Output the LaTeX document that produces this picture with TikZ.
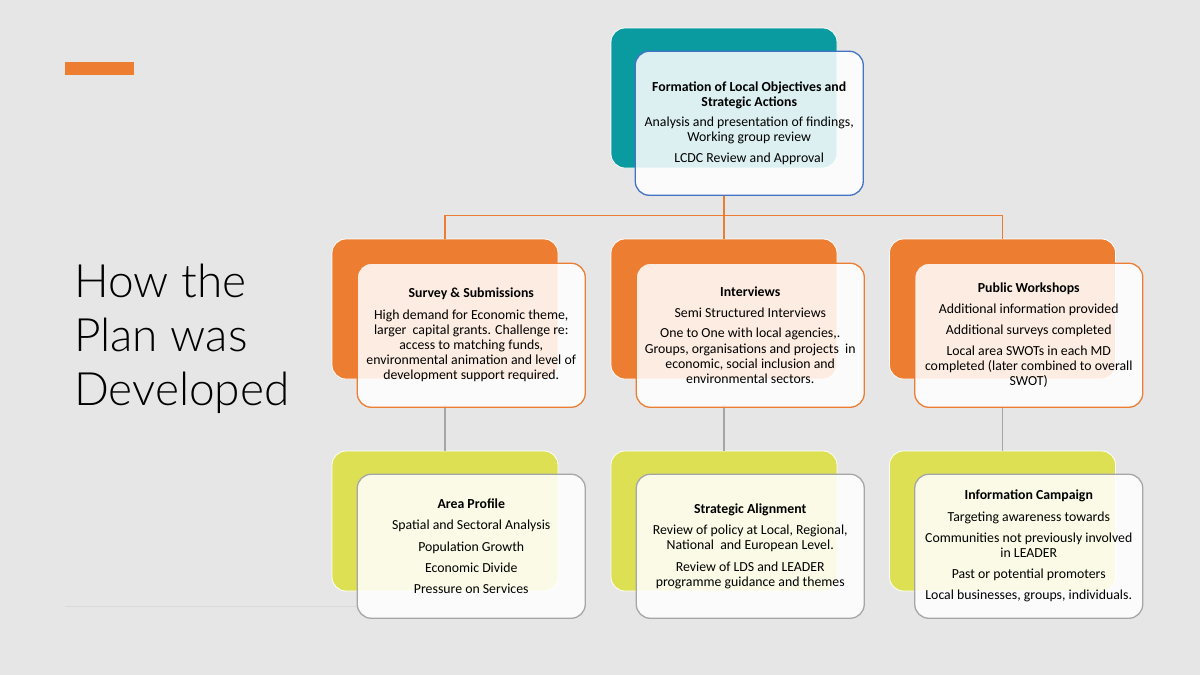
\documentclass[tikz,border=0pt]{standalone}
\usepackage{fontspec}
\setmainfont{Carlito}
\IfFontExistsTF{Lato Light}{\newfontfamily\titlefont{Lato Light}}{\newfontfamily\titlefont{Lato}}
\usepackage{tikz}
\usetikzlibrary{positioning}

\definecolor{slidebg}{RGB}{231,230,230}
\definecolor{orangeA}{RGB}{237,125,49}
\definecolor{tealA}{RGB}{10,155,160}
\definecolor{limeA}{RGB}{220,224,82}
\definecolor{blueA}{RGB}{68,114,196}
\definecolor{grayA}{RGB}{166,166,166}

\tikzset{
  backbox/.style={rounded corners=14pt, minimum width=226pt, minimum height=140pt,
    draw=white, line width=0.8pt, inner sep=0pt},
  frontbox/.style={rounded corners=14pt, minimum width=228pt, minimum height=144pt,
    fill=white, fill opacity=0.86, text opacity=1, line width=1.3pt, align=center,
    inner sep=0pt, font=\fontsize{13.8}{15.2}\selectfont, anchor=north west},
}

\begin{document}
\begin{tikzpicture}[x=1pt, y=-1pt]
  % Slide background
  \fill[slidebg] (0,0) rectangle (1200,675);
  \useasboundingbox (0,0) rectangle (1200,675);

  % Accent bar and title
  \fill[orangeA] (65,62) rectangle (134,75);
  \node[anchor=west, align=left, inner sep=0pt, font=\titlefont\fontsize{46}{54}\selectfont]
    (title) at (74,339) {How the\\Plan was\\Developed};
  \draw[gray!30, line width=0.8pt] (65,606) -- (357,606);

  % Back boxes
  \node[backbox, fill=tealA] (top-back) at (724,98) {};
  \foreach \i/\x in {1/445, 2/724, 3/1002.5}
      \node[backbox, fill=orangeA] (mid-back-\i) at (\x,309) {};
  \foreach \i/\x in {1/445, 2/724, 3/1002.5}
      \node[backbox, fill=limeA] (low-back-\i) at (\x,521) {};

  % Connect top with middle row
  \foreach \i in {1,...,3}
      \draw[orangeA, line width=1.3pt] (top-back.south) ++(0,27) -- ++(0,20) -| (mid-back-\i.north);

  % Connect middle row with lower row
  \foreach \i in {1,...,3}
      \draw[grayA, line width=1.3pt] (mid-back-\i.south) ++(0,26) -- (low-back-\i.north);

  % Front boxes
  \node[frontbox, draw=blueA] (top-front) at ([xshift=24pt, yshift=-23pt]top-back.north west)
    {\textbf{Formation of Local Objectives and}\\\textbf{Strategic Actions}\\[5pt]
     Analysis and presentation of findings,\\Working group review\\[6pt]
     LCDC Review and Approval};

  \node[frontbox, draw=orangeA] (mid-front-1) at ([xshift=25pt, yshift=-24pt]mid-back-1.north west)
    {\textbf{Survey \& Submissions}\\[6pt]
     High demand for Economic theme,\\larger\ \ capital grants. Challenge re:\\
     access to matching funds,\\environmental animation and level of\\
     development support required.};
  \node[frontbox, draw=orangeA] (mid-front-2) at ([xshift=25pt, yshift=-24pt]mid-back-2.north west)
    {\textbf{Interviews}\\[6pt]
     Semi Structured Interviews\\[5pt]
     One to One with local agencies,.\\Groups, organisations and projects\ \ in\\
     economic, social inclusion and\\environmental sectors.};
  \node[frontbox, draw=orangeA] (mid-front-3) at ([xshift=25pt, yshift=-24pt]mid-back-3.north west)
    {\textbf{Public Workshops}\\[6pt]
     Additional information provided\\[5pt]
     Additional surveys completed\\[6pt]
     Local area SWOTs in each MD\\completed (later combined to overall\\SWOT)};

  \node[frontbox, draw=grayA] (low-front-1) at ([xshift=25pt, yshift=-23pt]low-back-1.north west)
    {\textbf{Area Profile}\\[6pt]
     Spatial and Sectoral Analysis\\[6pt]
     Population Growth\\[6pt]
     Economic Divide\\[6pt]
     Pressure on Services};
  \node[frontbox, draw=grayA] (low-front-2) at ([xshift=25pt, yshift=-23pt]low-back-2.north west)
    {\textbf{Strategic Alignment}\\[6pt]
     Review of policy at Local, Regional,\\National\ \ and European Level.\\[6pt]
     Review of LDS and LEADER\\programme guidance and themes};
  \node[frontbox, draw=grayA] (low-front-3) at ([xshift=25pt, yshift=-23pt]low-back-3.north west)
    {\textbf{Information Campaign}\\[6pt]
     Targeting awareness towards\\[6pt]
     Communities not previously involved\\in LEADER\\[6pt]
     Past or potential promoters\\[6pt]
     Local businesses, groups, individuals.};
\end{tikzpicture}
\end{document}
